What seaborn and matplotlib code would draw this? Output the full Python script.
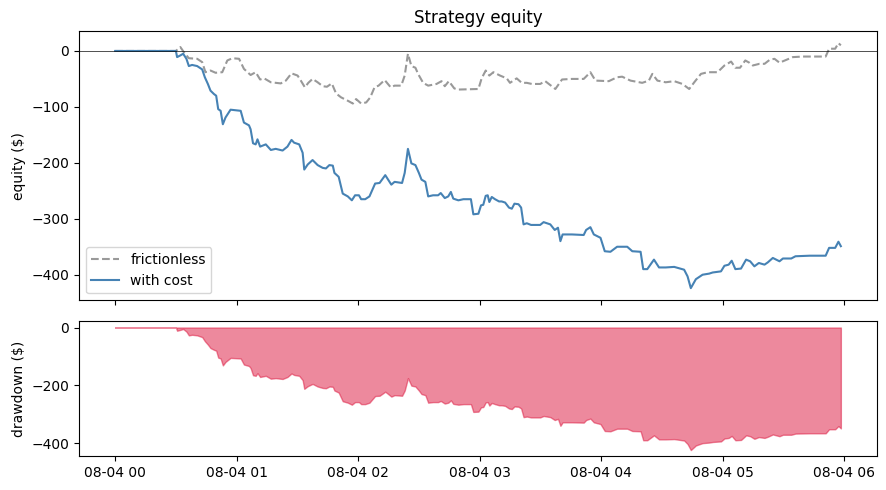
import numpy as np
import pandas as pd
import matplotlib
matplotlib.use('Agg')
import matplotlib.pyplot as plt
import matplotlib.dates as mdates
import seaborn as sns

# minutes after 2024-08-04 00:00 and equity in $
t_cost = [0, 30, 30.6, 32.2, 33.6, 35.2, 36.4, 38, 40.5, 43, 44.3, 45.8, 47.1, 48.8, 49.9,
          50.9, 52.1, 53.2, 54.5, 57, 59.5, 62, 63.6, 66.1, 66.9, 68.1, 69.4, 70.3, 71.6,
          74.4, 76.9, 79.3, 82.7, 85.1, 87.1, 88.4, 90.9, 92.6, 93.4, 95.1, 97.5, 100,
          102.5, 104.1, 105.8, 107.5, 108.3, 110.4, 112.4, 114.9, 116.9, 118.5, 120.4,
          121.5, 123.5, 125.6, 128.4, 130.6, 133.4, 136.4, 138, 141.7, 143, 144.6, 146.3,
          148.3, 150, 151.3, 153.2, 154.6, 157, 159.5, 160.8, 162.8, 164.5, 165.8, 167,
          169.5, 172, 175.7, 176.9, 179.4, 180.7, 181.8, 183, 184, 184.8, 186, 187.6,
          189.6, 190.9, 192.6, 194.5, 195.9, 197.2, 199.2, 200.5, 201.7, 203.3, 205.4,
          209.9, 211.6, 214.9, 217.1, 218.7, 219.9, 221, 225.6, 231.4, 232.6, 234.7,
          236.4, 239.7, 241.8, 244.6, 247.9, 252.9, 255.4, 259.5, 260.8, 262.8, 266.1,
          268.6, 271.9, 276.1, 281, 282.7, 284.3, 286.8, 290.1, 293.4, 295.1, 299.2,
          300.9, 303, 304.5, 306.3, 309.1, 311.6, 313.6, 315.7, 317.9, 320.7, 322.3,
          324.8, 328.1, 329.8, 333.9, 336, 343, 350.9, 352.6, 355.6, 357.2, 358.4]
eq_cost = [0, 0, -11, -8, -5, -14, -27, -25, -27, -33, -47, -59, -71, -77, -80,
           -104, -107, -131, -119, -105, -106, -107, -128, -133, -140, -165, -167, -158, -171,
           -167, -177, -175, -178, -171, -159, -164, -167, -182, -212, -203, -195, -204,
           -209, -210, -204, -205, -218, -225, -255, -260, -267, -258, -258,
           -265, -265, -260, -237, -236, -222, -239, -234, -236, -218, -175, -201,
           -204, -218, -230, -234, -260, -258, -258, -254, -263, -260, -252, -264,
           -267, -265, -265, -292, -291, -276, -275, -259, -258, -270, -261, -265,
           -269, -269, -271, -280, -282, -273, -274, -280, -310, -308, -311,
           -311, -306, -310, -320, -316, -340, -328, -328, -329, -320, -315,
           -328, -334, -358, -359, -350, -350, -358, -359, -390, -390, -373,
           -387, -387, -386, -391, -403, -424, -408, -400, -398, -396, -394,
           -384, -382, -375, -390, -389, -373, -376, -385, -379, -382, -378,
           -370, -376, -371, -371, -367, -366, -366, -352, -352, -341, -349]

t_fric = [0, 30, 32.2, 33.9, 36.4, 40.5, 43, 44.6, 47.1, 49.6, 52.9, 55.4, 57.9, 61.2,
          63.6, 66.9, 69.4, 71.6, 73.6, 76.9, 81.8, 84.3, 87.1, 90.1, 91.7, 93.7, 95.4,
          97.5, 100, 102.5, 104.6, 107, 109.1, 111.6, 114.9, 117.4, 119, 121.5, 124, 126,
          128.1, 130.1, 133.1, 136.1, 138, 141.3, 143, 144.6, 146.3, 148.3, 149.6, 152.1,
          154.6, 158.7, 161.2, 162.8, 164.8, 167.5, 169.5, 179.4, 181, 183, 184.8, 186.8,
          190.1, 193.4, 195, 198.3, 200.8, 203.3, 205.8, 209.9, 212.4, 217.4, 220.7,
          225.6, 231.4, 234.7, 237.2, 243.8, 247.9, 250.4, 254.5, 260.3, 263.6, 265.3,
          267.8, 271.9, 276.1, 280.2, 283.5, 286, 289.3, 292.6, 297.5, 300.9, 304.2,
          306.3, 308.6, 311.2, 313.2, 314.9, 318.2, 320.7, 323.2, 325.6, 328.1, 331.4,
          334.7, 339.7, 346.3, 350.9, 352.6, 355.6, 357.2, 358.4]
eq_fric = [0, 0, 7, -2, -13, -14, -20, -38, -35, -39, -38, -17, -13, -14,
           -32, -43, -38, -51, -49, -56, -58, -53, -40, -44, -53, -65, -57,
           -50, -56, -63, -64, -58, -76, -83, -89, -94, -86, -94, -92, -83,
           -65, -62, -52, -65, -62, -62, -44, -5, -27, -30, -41, -57,
           -62, -59, -54, -63, -54, -67, -69, -68, -49, -35, -44, -38,
           -44, -49, -57, -49, -57, -57, -59, -59, -54, -68, -51,
           -50, -50, -38, -53, -54, -47, -46, -53, -57, -53, -41,
           -53, -56, -54, -59, -68, -56, -41, -38, -38, -26, -19,
           -30, -30, -17, -21, -26, -23, -23, -16, -14, -21, -16,
           -11, -10, -10, -10, 4, 4, 14, 10]

start = pd.Timestamp('2024-08-04 00:00')
cost = pd.DataFrame({'time': start + pd.to_timedelta(t_cost, unit='min'), 'equity': eq_cost})
fric = pd.DataFrame({'time': start + pd.to_timedelta(t_fric, unit='min'), 'equity': eq_fric})
cost['drawdown'] = cost['equity'] - cost['equity'].cummax()

fig, (ax, ax2) = plt.subplots(2, 1, sharex=True, figsize=(8.86, 4.9),
                              gridspec_kw={'height_ratios': [2, 1]})

sns.lineplot(data=fric, x='time', y='equity', ax=ax, color='gray', alpha=0.8,
             linestyle='--', label='frictionless')
sns.lineplot(data=cost, x='time', y='equity', ax=ax, color='steelblue', label='with cost')
ax.axhline(0, color='k', lw=0.6, alpha=0.8)
ax.set_title('Strategy equity')
ax.set_ylabel('equity ($)')
ax.set_xlabel('')
ax.legend(loc='lower left')

ax2.fill_between(cost['time'], cost['drawdown'], 0, color='crimson', alpha=0.5)
ax2.set_ylabel('drawdown ($)')
ax2.set_xlabel('')
ax2.xaxis.set_major_locator(mdates.HourLocator(interval=1))
ax2.xaxis.set_major_formatter(mdates.DateFormatter('%m-%d %H'))

fig.subplots_adjust(left=0.089, right=0.99, top=0.937, bottom=0.069, hspace=0.104)
fig.savefig('out.png', dpi=100)
plt.close()
